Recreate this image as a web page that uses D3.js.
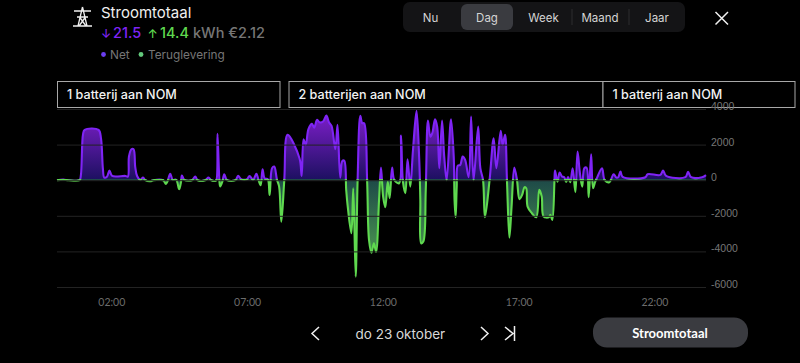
<!DOCTYPE html>
<html>
<head>
<meta charset="utf-8">
<script src="https://cdn.jsdelivr.net/npm/d3@7"></script>
<style>
    html, body { margin: 0; padding: 0; background: #000; overflow: hidden; }
    text { font-family: Inter, "Liberation Sans", sans-serif; }
    .tick text.ylabel { font-family: "Liberation Sans", sans-serif; }
</style>
</head>
<body>
<div id="chart"></div>
<script>
// hours since midnight, one reading per entry of netWatts
var netHours = [
    0.00, 0.23, 0.42, 0.83, 0.88, 0.96, 1.02, 1.53, 1.62, 1.69,
    1.74, 1.84, 1.93, 2.03, 2.52, 2.61, 2.65, 2.74, 2.82, 2.88,
    2.95, 3.07, 3.17, 3.25, 3.44, 3.55, 3.91, 4.01, 4.07, 4.17,
    4.26, 4.39, 4.50, 4.57, 4.60, 4.69, 4.97, 5.09, 5.18, 5.46,
    5.58, 5.68, 5.83, 5.87, 5.91, 5.98, 6.01, 6.09, 6.16, 6.26,
    6.57, 6.67, 6.78, 7.00, 7.09, 7.22, 7.34, 7.42, 7.50, 7.57,
    7.65, 7.76, 7.83, 7.92, 8.00, 8.10, 8.18, 8.26, 8.37, 8.49,
    8.93, 9.01, 9.08, 9.16, 9.26, 9.39, 9.47, 9.58, 9.67, 9.80,
    9.92, 10.02, 10.11, 10.25, 10.33, 10.43, 10.51, 10.58, 10.65, 10.70,
    10.84, 10.91, 11.00, 11.07, 11.17, 11.24, 11.31, 11.42, 11.49, 11.58,
    11.67, 11.75, 11.86, 11.93, 12.01, 12.09, 12.18, 12.25, 12.34, 12.42,
    12.60, 12.67, 12.74, 12.83, 12.91, 13.01, 13.11, 13.24, 13.34, 13.38,
    13.41, 13.49, 13.58, 13.66, 13.75, 13.82, 13.92, 14.00, 14.08, 14.18,
    14.26, 14.35, 14.51, 14.61, 14.64, 14.68, 14.72, 14.76, 14.85, 14.94,
    15.03, 15.16, 15.25, 15.34, 15.51, 15.59, 15.69, 15.76, 15.93, 16.08,
    16.18, 16.34, 16.41, 16.50, 16.57, 16.66, 16.74, 16.84, 16.94, 17.03,
    17.13, 17.22, 17.28, 17.33, 17.49, 17.65, 17.76, 17.85, 17.92, 18.11,
    18.17, 18.24, 18.32, 18.34, 18.43, 18.51, 18.60, 18.68, 18.75, 18.82,
    18.90, 18.99, 19.09, 19.17, 19.25, 19.34, 19.42, 19.50, 19.58, 19.67,
    19.74, 19.82, 19.89, 20.07, 20.17, 20.34, 20.50, 20.60, 20.67, 20.75,
    20.83, 21.67, 21.75, 22.22, 22.32, 22.43, 23.14, 23.24, 23.35, 23.76,
    23.90
];
var netWatts = [
    0, 30, 0, 0, 290, 2600, 2830, 2830, 2350, 650,
    150, 190, 540, 240, 240, 200, 1330, 1740, 1740, 750,
    240, 20, 146, 0, -56, 0, 0, -208, -60, 354,
    20, 20, -506, -60, 260, 20, 0, 205, 0, 0,
    146, 0, -40, 0, 2600, 0, -356, -70, 337, 0,
    0, 242, 60, 60, 240, 20, 354, 20, -281, 618,
    90, 60, -826, 674, 764, 30, -360, -2327, 0, 2546,
    1236, 242, 2304, 1984, 2866, 3164, 2950, 3389, 3250, 3300,
    3630, 3237, 3052, 1742, 3108, 146, 1085, 1085, -545, -1388,
    -2979, -450, -5418, 0, 3614, 3203, 3203, 0, -3355, -4069,
    -3541, -4030, -1107, 708, -920, -1517, -79, -1012, 708, 17,
    -169, 2507, -79, -731, 1180, -360, 1703, 3895, 1141, -1107,
    -3541, -3450, -545, 3350, 2450, 2650, 3428, 3012, 674, 3350,
    1326, 0, 3428, 1326, -1107, -2080, -360, 821, 860, 1326,
    1141, 169, 3574, 0, 3012, 674, 0, -2080, 0, 2360,
    674, 2770, 1984, 2546, 0, -3226, -1483, 708, 0, -1068,
    -820, -393, -450, -1483, -1855, -2080, -545, -920, -2043, -2080,
    -1950, -2231, 0, 540, -79, 427, 200, 170, -100, 170,
    -110, 674, -674, 1607, 483, -360, 674, 708, -955, 1461,
    -450, -80, 146, 674, 0, -112, 337, 146, 170, 483,
    185, 169, 337, 298, 540, 242, 169, 466, 169, 169,
    281
];
var xTickHours = [2, 7, 12, 17, 22];
var xTickLabels = ["02:00", "07:00", "12:00", "17:00", "22:00"];
var yTicks = [4000, 2000, 0, -2000, -4000, -6000];
var batteryLabels = ["1 batterij aan NOM", "2 batterijen aan NOM", "1 batterij aan NOM"];
var periods = ["Nu", "Dag", "Week", "Maand", "Jaar"];

var w = 800;
var h = 363;
var purple = "#7f24f5";
var green = "#5fd94f";
var grey = "#767676";

var data = netHours.map(function(d, i) { return { hour: d, watt: netWatts[i] }; });

var svg = d3.select("#chart").append("svg")
    .attr("width", w)
    .attr("height", h)
    .style("display", "block")
    .style("background", "#000");

var xScale = d3.scaleLinear().domain([0, 23.9]).range([57, 706]);
var yScale = d3.scaleLinear().domain([4000, -6000]).range([109, 287]);
var zeroY = yScale(0);

// gradients + clip regions
var defs = svg.append("defs");

var gradUp = defs.append("linearGradient").attr("id", "fillUp")
    .attr("gradientUnits", "userSpaceOnUse")
    .attr("x1", 0).attr("x2", 0).attr("y1", yScale(3600)).attr("y2", zeroY);
gradUp.append("stop").attr("offset", 0).attr("stop-color", "#7a1ec6");
gradUp.append("stop").attr("offset", 1).attr("stop-color", "#1c1060");

var gradDown = defs.append("linearGradient").attr("id", "fillDown")
    .attr("gradientUnits", "userSpaceOnUse")
    .attr("x1", 0).attr("x2", 0).attr("y1", zeroY).attr("y2", yScale(-4200));
gradDown.append("stop").attr("offset", 0).attr("stop-color", "#1e4a48");
gradDown.append("stop").attr("offset", 1).attr("stop-color", "#4a9650");

defs.append("clipPath").attr("id", "clipUp").append("rect")
    .attr("x", 0).attr("y", 0).attr("width", w).attr("height", zeroY);
defs.append("clipPath").attr("id", "clipDown").append("rect")
    .attr("x", 0).attr("y", zeroY - 1.2).attr("width", w).attr("height", h);

// Axes
var yAxis = d3.axisRight(yScale)
    .tickValues(yTicks)
    .tickSize(-(xScale.range()[1] - xScale.range()[0]))
    .tickPadding(5)
    .tickFormat(function(d) { return String(d); });

var yG = svg.append("g")
    .attr("transform", "translate(706,0)")
    .call(yAxis);
yG.select(".domain").remove();
yG.selectAll("line").attr("stroke", "#232323");
yG.selectAll("text")
    .attr("class", "ylabel")
    .attr("fill", grey)
    .attr("font-size", 10.5)
    .attr("dy", "0.05em");

var xAxis = d3.axisBottom(xScale)
    .tickValues(xTickHours)
    .tickSize(0)
    .tickPadding(0)
    .tickFormat(function(d, i) { return xTickLabels[i]; });

var xG = svg.append("g")
    .attr("transform", "translate(0,299)")
    .call(xAxis);
xG.select(".domain").remove();
xG.selectAll("text")
    .attr("fill", "#6c6c6c")
    .style("font-family", "Lato")
    .attr("font-size", 10.5);

// Area + line
var curve = d3.curveCatmullRom.alpha(0.5);

var area = d3.area()
    .x(function(d) { return xScale(d.hour); })
    .y0(zeroY)
    .y1(function(d) { return yScale(d.watt); })
    .curve(curve);

var line = d3.line()
    .x(function(d) { return xScale(d.hour); })
    .y(function(d) { return yScale(d.watt); })
    .curve(curve);

svg.append("path").datum(data)
    .attr("d", area).attr("fill", "url(#fillUp)").attr("clip-path", "url(#clipUp)");
svg.append("path").datum(data)
    .attr("d", area).attr("fill", "url(#fillDown)").attr("clip-path", "url(#clipDown)");
svg.append("path").datum(data)
    .attr("d", line).attr("fill", "none").attr("stroke", purple).attr("stroke-width", 2.1)
    .attr("clip-path", "url(#clipUp)");
svg.append("path").datum(data)
    .attr("d", line).attr("fill", "none").attr("stroke", green).attr("stroke-width", 2.1)
    .attr("clip-path", "url(#clipDown)");

// Annotation boxes on top
var boxEdges = [57.5, 280, 289, 603, 603, 795];
batteryLabels.forEach(function(label, i) {
    var x0 = boxEdges[i * 2];
    var x1 = boxEdges[i * 2 + 1];
    svg.append("rect")
        .attr("x", x0).attr("y", 81.5)
        .attr("width", x1 - x0).attr("height", 26)
        .attr("fill", "#000")
        .attr("stroke", "#a8a8a8")
        .attr("stroke-width", 1);
    svg.append("text")
        .attr("x", x0 + 9.5).attr("y", 99)
        .attr("fill", "#f2f2f2")
        .attr("font-size", 12.6)
        .attr("font-weight", 500)
        .text(label);
});
// the 4000 label sits over the box edge
yG.raise();

// Header
svg.append("text").attr("x", 101).attr("y", 17.5).attr("fill", "#f0f0f0")
    .attr("font-size", 15).text("Stroomtotaal");

var stats = [
    { x: 101, text: "↓", color: purple, size: 12 },
    { x: 113, text: "21.5", color: purple, size: 14.5 },
    { x: 147.5, text: "↑", color: green, size: 12 },
    { x: 160, text: "14.4", color: green, size: 14.5 },
    { x: 193, text: "kWh €2.12", color: grey, size: 14.5 }
];
stats.forEach(function(d) {
    svg.append("text").attr("x", d.x).attr("y", 37.5).attr("fill", d.color)
        .attr("font-size", d.size).attr("font-weight", 500).text(d.text);
});

svg.append("circle").attr("cx", 103.5).attr("cy", 54.5).attr("r", 2.4).attr("fill", "#6a3df0");
svg.append("text").attr("x", 110).attr("y", 59).attr("fill", grey).attr("font-size", 11.8).text("Net");
svg.append("circle").attr("cx", 141).attr("cy", 54.5).attr("r", 2.4).attr("fill", "#62c97c");
svg.append("text").attr("x", 148).attr("y", 59).attr("fill", grey).attr("font-size", 11.8).text("Teruglevering");

// pylon icon
var icon = svg.append("g").attr("stroke", "#f0f0f0").attr("stroke-width", 1.3).attr("fill", "none");
icon.append("path").attr("d", "M74 11H91M77 17H88M73 26H92M82.5 7L78 26M82.5 7L87 26M79.5 17L86 26M85.5 17L79 26");

// Period selector
svg.append("rect").attr("x", 403).attr("y", 2).attr("width", 282).attr("height", 30)
    .attr("rx", 7).attr("fill", "#141416");
svg.append("rect").attr("x", 461).attr("y", 4).attr("width", 52).attr("height", 26)
    .attr("rx", 6).attr("fill", "#3a3b40");
var periodX = [430.5, 487, 543.5, 600, 657];
periods.forEach(function(p, i) {
    svg.append("text").attr("x", periodX[i]).attr("y", 21.5)
        .attr("text-anchor", "middle").attr("fill", "#d4d4d4")
        .attr("font-size", 11.5).text(p);
});
[572, 629].forEach(function(x) {
    svg.append("line").attr("x1", x).attr("x2", x).attr("y1", 9).attr("y2", 25)
        .attr("stroke", "#2c2c2e");
});

// Close cross
svg.append("path").attr("d", "M715.5 12L728 24.5M728 12L715.5 24.5")
    .attr("stroke", "#f0f0f0").attr("stroke-width", 1.5).attr("fill", "none");

// Footer
var nav = svg.append("g").attr("stroke", "#f0f0f0").attr("stroke-width", 1.5).attr("fill", "none");
nav.append("path").attr("d", "M319 327L312 333.5L319 340");
nav.append("path").attr("d", "M481 327L488 333.5L481 340");
nav.append("path").attr("d", "M505 327L513 333.5L505 340M514.5 326V341");

svg.append("text").attr("x", 355.5).attr("y", 338.5).attr("fill", "#d8d8d8")
    .attr("font-size", 13.5).text("do 23 oktober");

svg.append("rect").attr("x", 593).attr("y", 317.5).attr("width", 155).attr("height", 30)
    .attr("rx", 14).attr("fill", "#3a3b40");
svg.append("text").attr("x", 670).attr("y", 338).attr("text-anchor", "middle")
    .attr("fill", "#fff").attr("font-size", 13).attr("font-weight", 700)
    .style("font-family", "Lato").text("Stroomtotaal");
</script>
</body>
</html>
